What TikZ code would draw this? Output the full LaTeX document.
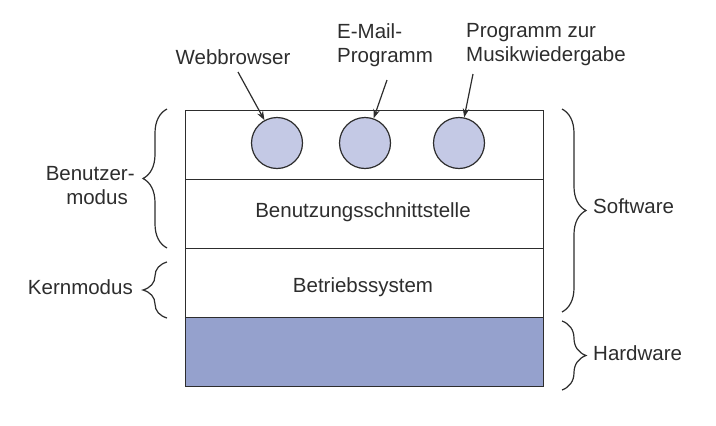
\documentclass[tikz,border=0pt]{standalone}
\usepackage{fontspec}
\setmainfont{Liberation Sans}
\usetikzlibrary{arrows.meta,decorations.pathreplacing}
\definecolor{appfill}{RGB}{196,201,229}
\definecolor{hwfill}{RGB}{149,161,205}
\definecolor{linecol}{RGB}{45,45,45}
\tikzset{
  lbl/.style={inner sep=0pt, font=\fontsize{20.5}{24}\selectfont, text=linecol},
  layer/.style={draw=linecol, line width=1.2pt, minimum width=358pt, minimum height=69pt, inner sep=0pt, anchor=north west},
  app/.style={circle, draw=linecol, line width=1.2pt, fill=appfill, minimum size=51pt, inner sep=0pt},
  ptr/.style={draw=linecol, line width=1.2pt, -{Stealth[length=9pt,width=6.5pt]}},
  brc/.style={draw=linecol, line width=1.2pt, decorate, decoration={brace, amplitude=24pt}},
}
\begin{document}
\begin{tikzpicture}[x=1pt,y=-1pt]
\useasboundingbox (0,0) rectangle (716,426);
% layers
\node[layer] (ul) at (185,110) {};
\node[layer] (ui) at (185,179) {};
\node[layer] (os) at (185,248) {};
\node[layer, fill=hwfill] (hw) at (185,317) {};
\node[lbl] (uitxt) at (363,212) {Benutzungsschnittstelle};
\node[lbl] (ostxt) at (363,287) {Betriebssystem};
% applications
\node[app] (a1) at (277,143) {};
\node[app] (a2) at (365,143) {};
\node[app] (a3) at (459,143) {};
% labels
\node[lbl] (wb) at (233,57) {Webbrowser};
\node[lbl, align=left, anchor=west] (em) at (337,45) {E-Mail-\\Programm};
\node[lbl, align=left, anchor=west] (mu) at (466,45) {Programm zur\\Musikwiedergabe};
\coordinate (s1) at (238,72);
\coordinate (s2) at (387,80);
\coordinate (s3) at (473,74);
\draw[ptr] (s1) -- (a1);
\draw[ptr] (s2) -- (a2);
\draw[ptr] (s3) -- (a3);
% left braces
\coordinate (b1t) at (167,109);
\coordinate (b1b) at (167,248);
\coordinate (b2t) at (167,262);
\coordinate (b2b) at (167,318);
\draw[brc] (b1b) -- (b1t);
\draw[brc] (b2b) -- (b2t);
\node[lbl, align=right, anchor=east] (um) at (128,186) {Benutzer\rlap{-}\\modus};
\node[lbl, anchor=east] (km) at (133,287) {Kernmodus};
% right braces
\coordinate (b3t) at (562,109);
\coordinate (b3b) at (562,312);
\coordinate (b4t) at (562,321);
\coordinate (b4b) at (562,390);
\draw[brc] (b3t) -- (b3b);
\draw[brc] (b4t) -- (b4b);
\node[lbl, anchor=west] (sw) at (593,206) {Software};
\node[lbl, anchor=west] (hwl) at (593,353) {Hardware};
\end{tikzpicture}
\end{document}
